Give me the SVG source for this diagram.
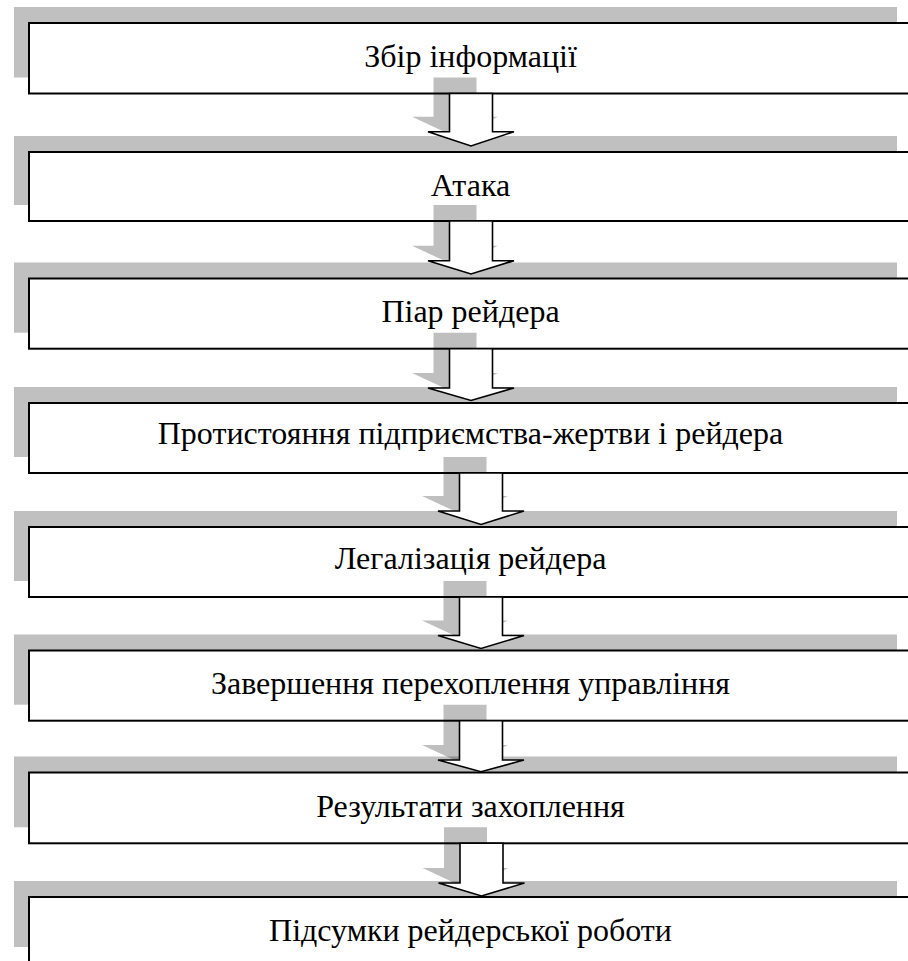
<svg xmlns="http://www.w3.org/2000/svg" width="908" height="961" viewBox="0 0 908 961">
  <style>
    .bg { fill: #ffffff; }
    .shade { fill: #c0c0c0; }
    .box { fill: #ffffff; stroke: #000000; stroke-width: 2; }
    .label { font-family: 'Liberation Serif', 'Times New Roman', serif; font-size: 32px; fill: #000000; text-anchor: middle; }
    .arrow-shade { fill: #000000; fill-opacity: 0.25; }
    .arrow { fill: #ffffff; stroke: #000000; stroke-width: 1.6; stroke-linejoin: miter; }
  </style>
  <rect class="bg" x="0" y="0" width="908" height="961"/>

  <!-- process stages -->
  <g id="stage1">
    <rect class="shade" x="14" y="7" width="883" height="70.5"/>
    <rect class="box" x="29" y="23" width="883" height="70.5"/>
    <text class="label" x="470.5" y="67">Збір інформації</text>
  </g>
  <g id="stage2">
    <rect class="shade" x="14" y="136" width="883" height="69"/>
    <rect class="box" x="29" y="152" width="883" height="69"/>
    <text class="label" x="470.5" y="196">Атака</text>
  </g>
  <g id="stage3">
    <rect class="shade" x="14" y="262.5" width="883" height="70.2"/>
    <rect class="box" x="29" y="278.5" width="883" height="70.2"/>
    <text class="label" x="470.5" y="322">Піар рейдера</text>
  </g>
  <g id="stage4">
    <rect class="shade" x="14" y="387" width="883" height="70"/>
    <rect class="box" x="29" y="403" width="883" height="70"/>
    <text class="label" x="470.5" y="444">Протистояння підприємства-жертви і рейдера</text>
  </g>
  <g id="stage5">
    <rect class="shade" x="14" y="511" width="883" height="70"/>
    <rect class="box" x="29" y="527" width="883" height="70"/>
    <text class="label" x="470.5" y="569">Легалізація рейдера</text>
  </g>
  <g id="stage6">
    <rect class="shade" x="14" y="634.5" width="883" height="70.2"/>
    <rect class="box" x="29" y="650.5" width="883" height="70.2"/>
    <text class="label" x="470.5" y="694">Завершення перехоплення управління</text>
  </g>
  <g id="stage7">
    <rect class="shade" x="14" y="756.5" width="883" height="70.8"/>
    <rect class="box" x="29" y="772.5" width="883" height="70.8"/>
    <text class="label" x="470.5" y="817">Результати захоплення</text>
  </g>
  <g id="stage8">
    <rect class="shade" x="14" y="881" width="883" height="66"/>
    <rect class="box" x="29" y="897" width="883" height="66"/>
    <text class="label" x="470.5" y="941">Підсумки рейдерської роботи</text>
  </g>

  <!-- block arrows between stages -->
  <g id="connectors">
    <g id="arrow1">
      <polygon class="arrow-shade" points="433.5,77.5 476.5,77.5 476.5,116.7 498,116.7 455,136.7 412,116.7 433.5,116.7"/>
      <polygon class="arrow" points="449.5,93.5 492.5,93.5 492.5,131.7 514,131.7 471,146 428,131.7 449.5,131.7"/>
    </g>
    <g id="arrow2">
      <polygon class="arrow-shade" points="433.5,205 476.5,205 476.5,245.7 498,245.7 455,265.7 412,245.7 433.5,245.7"/>
      <polygon class="arrow" points="449.5,221 492.5,221 492.5,260.7 514,260.7 471,274 428,260.7 449.5,260.7"/>
    </g>
    <g id="arrow3">
      <polygon class="arrow-shade" points="433.5,332.7 476.5,332.7 476.5,373 498,373 455,393 412,373 433.5,373"/>
      <polygon class="arrow" points="449.5,348.7 492.5,348.7 492.5,388 514,388 471,400.5 428,388 449.5,388"/>
    </g>
    <g id="arrow4">
      <polygon class="arrow-shade" points="443.5,457 486.5,457 486.5,496 508,496 465,516 422,496 443.5,496"/>
      <polygon class="arrow" points="459.5,473 502.5,473 502.5,511 524,511 481,524.5 438,511 459.5,511"/>
    </g>
    <g id="arrow5">
      <polygon class="arrow-shade" points="443.5,581 486.5,581 486.5,620.5 508,620.5 465,640.5 422,620.5 443.5,620.5"/>
      <polygon class="arrow" points="459.5,597 502.5,597 502.5,635.5 524,635.5 481,648.5 438,635.5 459.5,635.5"/>
    </g>
    <g id="arrow6">
      <polygon class="arrow-shade" points="443.5,704.7 486.5,704.7 486.5,745 508,745 465,765 422,745 443.5,745"/>
      <polygon class="arrow" points="459.5,720.7 502.5,720.7 502.5,760 524,760 481,771.7 438,760 459.5,760"/>
    </g>
    <g id="arrow7">
      <polygon class="arrow-shade" points="444,827.3 487,827.3 487,868 508.5,868 465.5,888 422.5,868 444,868"/>
      <polygon class="arrow" points="460,843.3 503,843.3 503,883 524.5,883 481.5,896 438.5,883 460,883"/>
    </g>
  </g>
</svg>
